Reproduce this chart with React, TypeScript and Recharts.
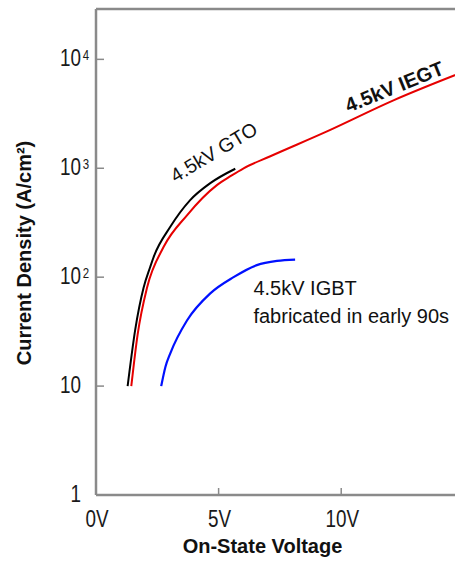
import React from 'react';
import { LineChart, Line, XAxis, YAxis, ReferenceLine, ReferenceDot } from 'recharts';

// on-state voltage (V) vs current density (A/cm2)
const gtoVoltage = [1.29, 1.6, 1.94, 2.21, 2.35, 3.03, 3.84, 4.66, 5.68];
const gtoCurrent = [10, 33, 80, 124, 153, 290, 510, 730, 990];

const iegtVoltage = [1.44, 1.7, 2.08, 2.76, 3.71, 4.93, 5.5, 6.02, 7.11, 9.42, 12.13, 15];
const iegtCurrent = [10, 30, 80, 190, 370, 700, 850, 1000, 1290, 2180, 4200, 7700];

const igbtVoltage = [2.66, 2.83, 3.03, 3.71, 4.66, 5.61, 6.56, 7.38, 8.12];
const igbtCurrent = [10, 15, 20, 40, 71, 100, 129, 141, 145];

const xTicks = [0, 5, 10];
const xTickLabels = ['0V', '5V', '10V'];
const yTicks = [1, 10, 100, 1000, 10000];
const yTickBase = ['1', '10', '10', '10', '10'];
const yTickExp = ['', '', '2', '3', '4'];

const labelText = ['4.5kV GTO', '4.5kV IEGT', '4.5kV IGBT'];
const labelVoltage = [4.945, 12.27, 6.42];
const labelCurrent = [1244, 4886, 68.7];

const X_MAX = 14.64;
const Y_MAX = 29000;
const AXIS = '#8a8a8a';
const FONT = 'Liberation Sans, Arial, Helvetica, sans-serif';

const toRows = (v: number[], j: number[]) => v.map((x, i) => ({ v: x, j: j[i] }));
const gtoData = toRows(gtoVoltage, gtoCurrent);
const iegtData = toRows(iegtVoltage, iegtCurrent);
const igbtData = toRows(igbtVoltage, igbtCurrent);

function YTick(props: any) {
  const { x, y, index } = props;
  return (
    <g fontFamily={FONT}>
      <line x1={x} x2={x + 8} y1={y} y2={y} stroke={AXIS} strokeWidth={1.5} />
      <g transform={`translate(${x - 15},${y + 7}) scale(0.82,1)`}>
        <text x={0} y={0} textAnchor="end" fontSize={23} fill="#1a1a1a" fontFamily={FONT}>
          {yTickBase[index]}
        </text>
        {yTickExp[index] && (
          <text x={2} y={-6.5} fontSize={14} fill="#1a1a1a" fontFamily={FONT}>
            {yTickExp[index]}
          </text>
        )}
      </g>
    </g>
  );
}

function XTick(props: any) {
  const { x, y, index } = props;
  return (
    <g fontFamily={FONT}>
      <line x1={x} x2={x} y1={y} y2={y - 7} stroke={AXIS} strokeWidth={1.5} />
      <g transform={`translate(${x + 1},${y + 32}) scale(0.82,1)`}>
        <text x={0} y={0} textAnchor="middle" fontSize={23} fill="#1a1a1a" fontFamily={FONT}>
          {xTickLabels[index]}
        </text>
      </g>
    </g>
  );
}

const YTitle = ({ viewBox }: any) => (
  <text
    transform={`translate(${viewBox.x + 31}, ${viewBox.y + viewBox.height / 2 + 1}) rotate(-90)`}
    textAnchor="middle"
    fontSize={20}
    fontWeight="bold"
    fontFamily={FONT}
    fill="#111"
  >
    Current Density (A/cm²)
  </text>
);

const XTitle = ({ viewBox }: any) => (
  <text
    x={viewBox.x + viewBox.width / 2 - 13}
    y={viewBox.y + 58}
    textAnchor="middle"
    fontSize={20}
    fontWeight="bold"
    fontFamily={FONT}
    fill="#111"
  >
    On-State Voltage
  </text>
);

export default function App() {
  return (
    <div
      style={{
        position: 'absolute',
        left: 0,
        top: 0,
        width: 455,
        height: 565,
        overflow: 'hidden',
        background: '#fff',
        fontFamily: FONT,
      }}
    >
      <LineChart width={455} height={565} margin={{ top: 9, right: 0, bottom: 0, left: 0 }}>
        <XAxis
          dataKey="v"
          type="number"
          domain={[0, X_MAX]}
          allowDataOverflow
          ticks={xTicks}
          height={70}
          tickSize={0}
          tickMargin={0}
          tickLine={false}
          tick={<XTick />}
          axisLine={{ stroke: AXIS, strokeWidth: 2.5 }}
          label={{ content: XTitle }}
        />
        <YAxis
          type="number"
          scale="log"
          domain={[1, Y_MAX]}
          allowDataOverflow
          ticks={yTicks}
          width={96}
          tickSize={0}
          tickMargin={0}
          tickLine={false}
          tick={<YTick />}
          axisLine={{ stroke: AXIS, strokeWidth: 2.5 }}
          label={{ content: YTitle }}
        />
        <ReferenceLine y={Y_MAX} stroke={AXIS} strokeWidth={2.5} />
        <Line
          data={gtoData}
          dataKey="j"
          type="monotone"
          stroke="#000000"
          strokeWidth={2}
          dot={false}
          isAnimationActive={false}
        />
        <Line
          data={iegtData}
          dataKey="j"
          type="monotone"
          stroke="#e60000"
          strokeWidth={2}
          dot={false}
          isAnimationActive={false}
        />
        <Line
          data={igbtData}
          dataKey="j"
          type="monotone"
          stroke="#0010ff"
          strokeWidth={2.2}
          dot={false}
          isAnimationActive={false}
        />
        <ReferenceDot
          x={labelVoltage[0]}
          y={labelCurrent[0]}
          r={1}
          shape={(p: any) => (
            <text
              x={p.cx}
              y={p.cy}
              textAnchor="middle"
              fontSize={19.5}
              fontFamily={FONT}
              fill="#111"
              transform={`rotate(-31, ${p.cx}, ${p.cy})`}
            >
              {labelText[0]}
            </text>
          )}
        />
        <ReferenceDot
          x={labelVoltage[1]}
          y={labelCurrent[1]}
          r={1}
          shape={(p: any) => (
            <text
              x={p.cx}
              y={p.cy}
              textAnchor="middle"
              fontSize={20}
              fontWeight="bold"
              fontFamily={FONT}
              fill="#111"
              transform={`rotate(-22, ${p.cx}, ${p.cy})`}
            >
              {labelText[1]}
            </text>
          )}
        />
        <ReferenceDot
          x={labelVoltage[2]}
          y={labelCurrent[2]}
          r={1}
          shape={(p: any) => (
            <text x={p.cx} y={p.cy} fontSize={20} fontFamily={FONT} fill="#111">
              <tspan x={p.cx}>{labelText[2]}</tspan>
              <tspan x={p.cx} dy={28}>
                fabricated in early 90s
              </tspan>
            </text>
          )}
        />
      </LineChart>
    </div>
  );
}
